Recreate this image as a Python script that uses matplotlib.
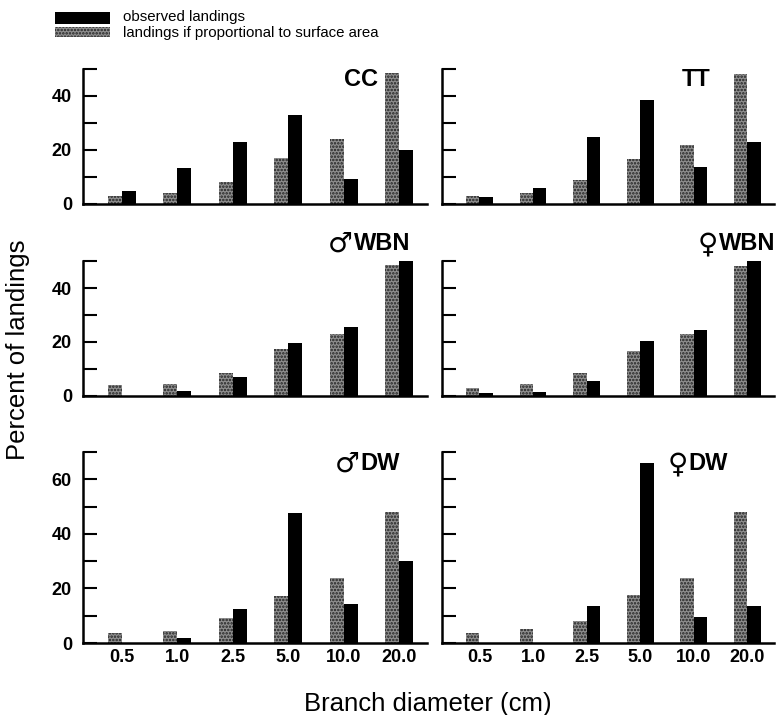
import matplotlib
matplotlib.use("Agg")
import matplotlib.pyplot as plt
from matplotlib.patches import Rectangle

plt.rcParams['font.family'] = ['Liberation Sans', 'DejaVu Sans']
plt.rcParams['hatch.linewidth'] = 1.2

diameters = ["0.5", "1.0", "2.5", "5.0", "10.0", "20.0"]

panel_symbols = ["", "", "\u2642", "\u2640", "\u2642", "\u2640"]
panel_names = ["CC", "TT", "WBN", "WBN", "DW", "DW"]

expected_CC = [3, 4, 8, 17, 24, 48.5]
observed_CC = [5, 13.3, 23, 33, 9.3, 20]
expected_TT = [3, 4, 9, 16.5, 22, 48]
observed_TT = [2.5, 6, 25, 38.5, 13.7, 23]
expected_mWBN = [4, 4.5, 8.5, 17.5, 23, 48.5]
observed_mWBN = [0, 2, 7, 19.6, 25.6, 50]
expected_fWBN = [3, 4.5, 8.5, 16.5, 23, 48]
observed_fWBN = [1, 1.5, 5.5, 20.5, 24.5, 50]
expected_mDW = [3.7, 4.3, 9, 17.4, 23.7, 48]
observed_mDW = [0, 1.7, 12.5, 47.8, 14.4, 30]
expected_fDW = [3.6, 5, 8, 17.7, 23.7, 48]
observed_fDW = [0, 0, 13.7, 66, 9.6, 13.7]

expected = [expected_CC, expected_TT, expected_mWBN, expected_fWBN, expected_mDW, expected_fDW]
observed = [observed_CC, observed_TT, observed_mWBN, observed_fWBN, observed_mDW, observed_fDW]

W, H = 776, 715
fig = plt.figure(figsize=(W / 100, H / 100), dpi=100)

def fx(px):
    return px / W

def fy(py):
    return 1 - py / H

cols = [(83, 427), (442, 774)]
rows = [(69, 204, 50), (261, 396, 50), (452, 643, 70)]

label_pos = [(378, 80), (711, 79), (410, 243), (775, 243), (400, 463), (728, 463)]

stip_face = '#8e8e8e'
stip_hatch = '#222222'

name_texts = []
for idx in range(6):
    r, c = divmod(idx, 2)
    x0, x1 = cols[c]
    y0, y1, ymax = rows[r]
    ax = fig.add_axes([fx(x0), fy(y1), fx(x1) - fx(x0), (y1 - y0) / H])
    pos = list(range(len(diameters)))
    ax.bar([p - 0.125 for p in pos], expected[idx], width=0.25, color=stip_face,
           hatch='.....', edgecolor=stip_hatch, linewidth=0)
    ax.bar([p + 0.125 for p in pos], observed[idx], width=0.25, color='black',
           linewidth=0)
    ax.set_xlim(-0.7, 5.5)
    ax.set_ylim(0, ymax)
    ax.set_yticks(range(0, ymax + 1, 10))
    if c == 0:
        ax.set_yticklabels([str(v) if v % 20 == 0 else "" for v in range(0, ymax + 1, 10)])
    else:
        ax.set_yticklabels([])
    ax.tick_params(axis='y', direction='in', length=10, width=1.5,
                   labelsize=13, pad=8)
    for lab in ax.get_yticklabels():
        lab.set_fontweight('bold')
    ax.set_xticks(pos)
    if r == 2:
        ax.set_xticklabels(diameters, fontsize=13, fontweight='bold')
    else:
        ax.set_xticklabels([])
    ax.tick_params(axis='x', length=0, pad=4)
    for s in ['top', 'right']:
        ax.spines[s].set_visible(False)
    ax.spines['left'].set_linewidth(1.8)
    ax.spines['bottom'].set_linewidth(1.8)
    ax.patch.set_alpha(0)
    lx, ly = label_pos[idx]
    t = fig.text(fx(lx), fy(ly), panel_names[idx], ha='right', va='center',
                 fontsize=17, fontweight='bold')
    name_texts.append(t)

fig.canvas.draw()
renderer = fig.canvas.get_renderer()
for idx in range(6):
    if not panel_symbols[idx]:
        continue
    bb = name_texts[idx].get_window_extent(renderer)
    lx, ly = label_pos[idx]
    fig.text(bb.x0 / W - 1 / W, fy(ly + 1), panel_symbols[idx], ha='right',
             va='center', fontsize=20, fontweight='normal', family='DejaVu Sans')

# legend
fig.patches.append(Rectangle((fx(55), fy(24)), fx(110) - fx(55), 12 / H,
                             transform=fig.transFigure, facecolor='black',
                             edgecolor='none'))
fig.patches.append(Rectangle((fx(55), fy(37)), fx(110) - fx(55), 10 / H,
                             transform=fig.transFigure, facecolor=stip_face,
                             hatch='.....', edgecolor=stip_hatch, linewidth=0))
fig.text(fx(123), fy(17), "observed landings", ha='left', va='center',
         fontsize=10.8)
fig.text(fx(123), fy(33), "landings if proportional to surface area",
         ha='left', va='center', fontsize=10.8)

fig.text(fx(18), fy(350), "Percent of landings", rotation=90, ha='center',
         va='center', fontsize=18.5)
fig.text(fx(428), fy(704), "Branch diameter (cm)", ha='center', va='center',
         fontsize=18.5)

fig.savefig("out.png", dpi=100)
